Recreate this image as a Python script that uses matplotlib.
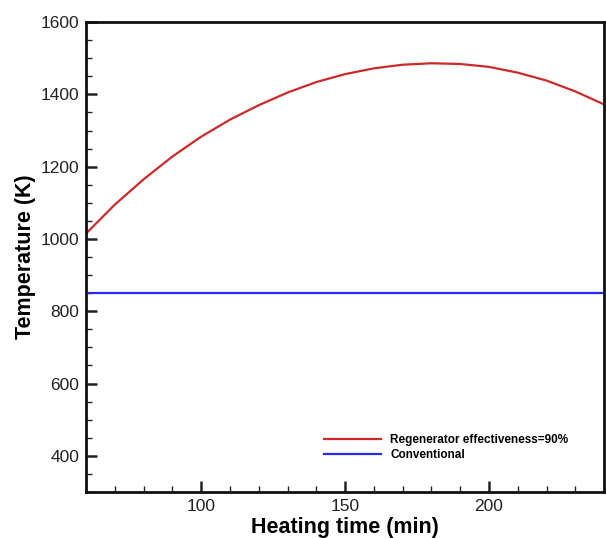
import matplotlib
matplotlib.use("Agg")
import matplotlib.pyplot as plt
from matplotlib.ticker import MultipleLocator

plt.rcParams['font.family'] = ['Liberation Sans', 'DejaVu Sans']

time_min = [60, 70, 80, 90, 100, 110, 120, 130, 140, 150, 160, 170, 180, 190, 200, 210, 220, 230, 240]
temp_regen = [1015, 1095, 1165, 1228, 1283, 1330, 1370, 1405, 1434, 1456, 1472, 1482, 1486, 1484, 1476, 1460, 1438, 1408, 1372]
temp_conv = [850] * len(time_min)

fig = plt.figure(figsize=(6.06, 5.38), dpi=100)
ax = fig.add_axes([0.142, 0.0855, 0.855, 0.8735])

ax.plot(time_min, temp_regen, color='#cc2a2a', lw=1.6, label='Regenerator effectiveness=90%')
ax.plot(time_min, temp_conv, color='#2a2aee', lw=1.6, label='Conventional')

ax.set_xlim(60, 240)
ax.set_ylim(300, 1600)
ax.xaxis.set_major_locator(MultipleLocator(50))
ax.xaxis.set_minor_locator(MultipleLocator(10))
ax.yaxis.set_major_locator(MultipleLocator(200))
ax.yaxis.set_minor_locator(MultipleLocator(50))
ax.tick_params(which='both', direction='in', top=False, right=False, labelsize=12.5, colors='#222222')
ax.tick_params(which='major', length=8, width=1.8, pad=5)
ax.tick_params(which='minor', length=4, width=1)
for s in ax.spines.values():
    s.set_linewidth(2)
    s.set_color('#111111')

ax.set_xlabel('Heating time (min)', fontsize=15.5, fontweight='bold', labelpad=2)
ax.set_ylabel('Temperature (K)', fontsize=15.5, fontweight='bold', labelpad=3)

leg = ax.legend(loc='upper left', bbox_to_anchor=(0.45, 0.134), frameon=False,
                prop={'size': 8.5, 'weight': 'bold'}, handlelength=4.8, handletextpad=0.8,
                labelspacing=0.25, borderaxespad=0)

fig.savefig('out.png', dpi=100)
